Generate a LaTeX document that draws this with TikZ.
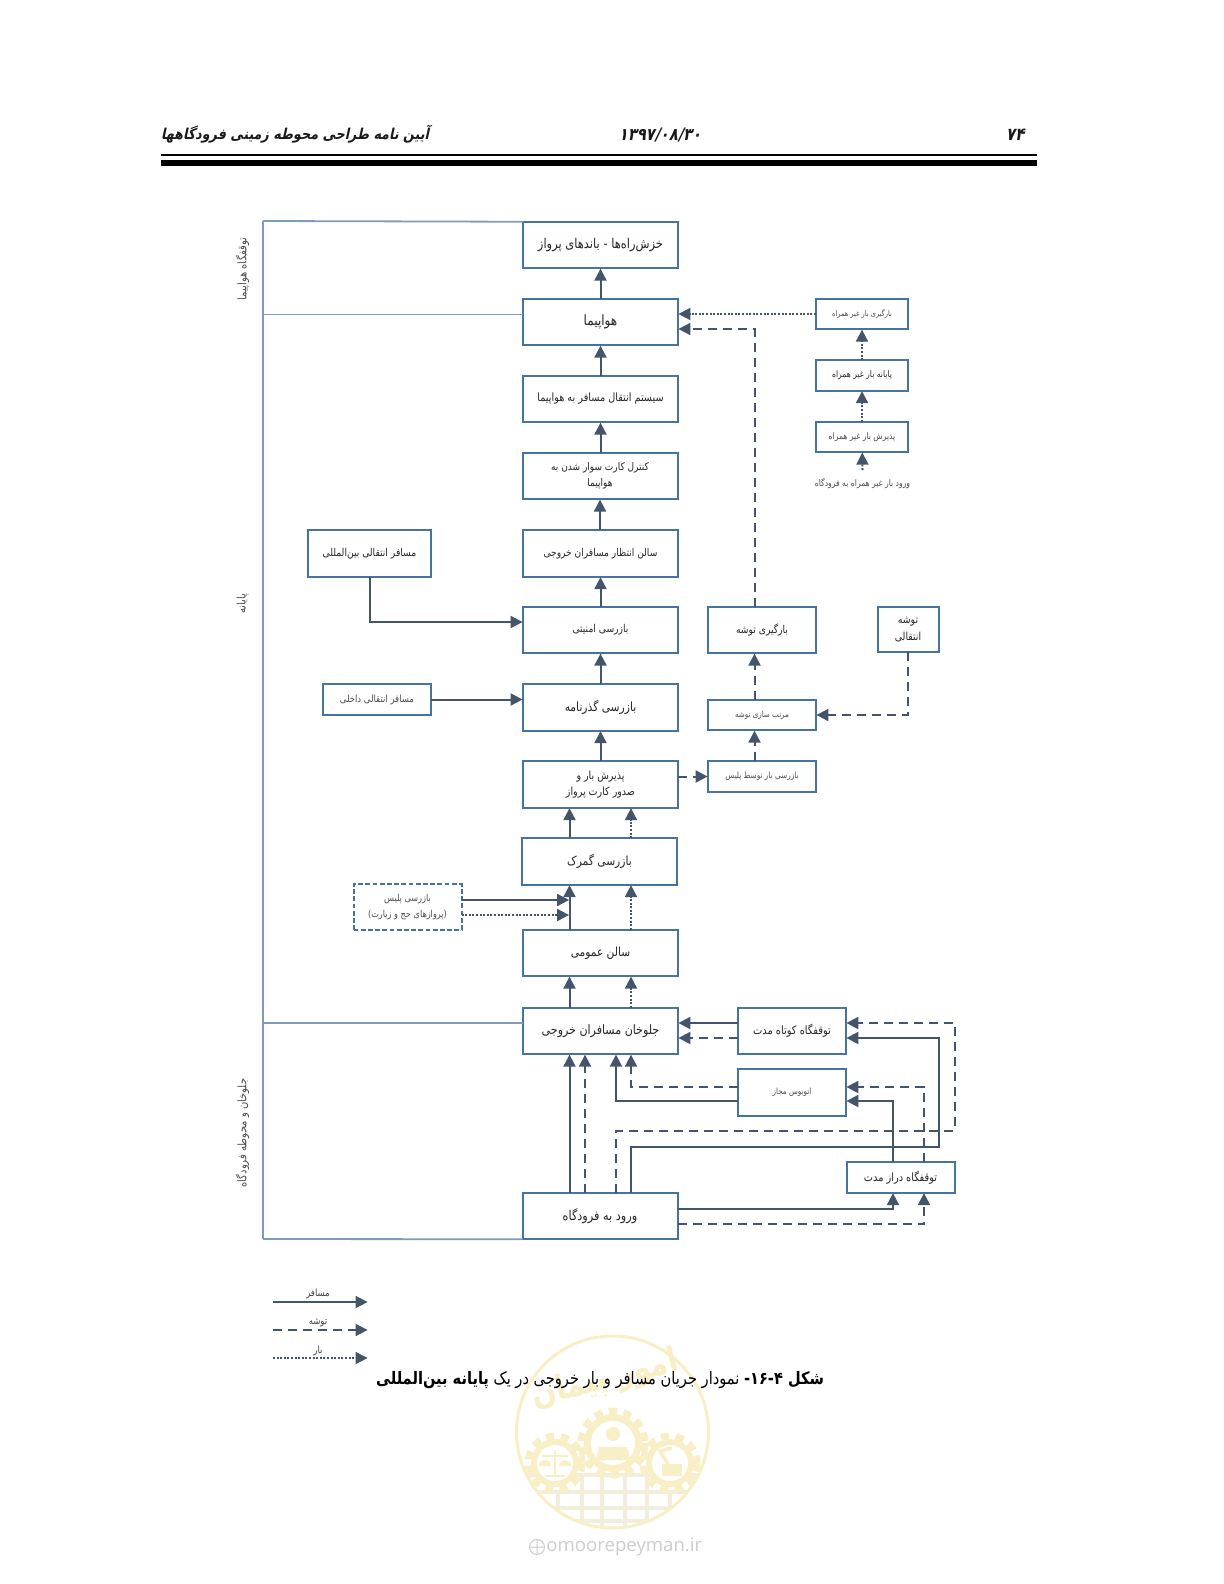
\documentclass[tikz,border=0pt]{standalone}
\usepackage{fontspec}
\usetikzlibrary{arrows.meta,calc}
\TeXXeTstate=1
\newfontfamily\farsi[Script=Arabic,FakeStretch=0.85]{DejaVu Sans}
\newfontfamily\farsib[Script=Arabic,FakeStretch=0.85]{DejaVu Sans Bold}
\newfontfamily\farsibs[Script=Arabic,FakeStretch=0.85,FakeSlant=0.22]{DejaVu Sans Bold}
\newfontfamily\latinw{Open Sans}
\definecolor{boxc}{HTML}{4673A0}
\definecolor{arrowc}{HTML}{44546A}
\definecolor{framec}{HTML}{7F9DB9}
\definecolor{wm}{HTML}{F9EFC6}
\definecolor{wmg}{HTML}{F3EEDC}
\newcommand{\fa}[1]{\raisebox{-1.4pt}{\beginR #1\endR}}
\newcommand{\fsz}[1]{\farsi\fontsize{#1}{8.1}\selectfont}
\tikzset{
  x=0.5pt,y=-0.5pt,
  basebox/.style={draw=boxc,line width=1pt,fill=white,inner sep=0pt,outer sep=0pt,align=center,text=black!85,font=\fsz{5.6}},
  bigbox/.style={basebox,minimum width=77.5pt,minimum height=23.25pt},
  midbox/.style={basebox,minimum width=54pt,minimum height=23.25pt},
  smallbox/.style={basebox,minimum width=54pt,minimum height=15.25pt,text=black!70,font=\fsz{4.3}},
  barbox/.style={smallbox,minimum width=46pt},
  pflow/.style={-{Triangle[length=6pt,width=6pt]},line width=1pt,color=arrowc,shorten >=0.2pt},
  bflow/.style={pflow,dash pattern=on 4.5pt off 3pt},
  cflow/.style={pflow,dash pattern=on 1pt off 0.8pt},
  framel/.style={draw=framec,line width=0.9pt},
  sidelab/.style={font=\fsz{5.9},text=black!70,rotate=90,inner sep=0pt},
  leglab/.style={font=\fsz{5},text=black!75,inner sep=0pt},
  wmline/.style={draw=wmg,line width=1.6pt},
}
\newcommand{\wmgear}[4]{% x y r(outer) inner
  \draw[wm,line width=4.5pt,dash pattern=on 4pt off 3.1pt] (#1,#2) circle[radius=#3];
  \fill[wm] (#1,#2) circle[radius=#3-2];
  \fill[white] (#1,#2) circle[radius=#4];
}
\begin{document}
\begin{tikzpicture}
\useasboundingbox (0,0) rectangle (1224,1584);
% watermark
\begin{scope}
  \clip (612.5,1432) circle[radius=95];
  \foreach \yy in {1475,1492,1508,1521} \draw[wmline] (515,\yy) -- (710,\yy);
  \foreach \xx in {582,602,625,647} \draw[wmline] (\xx,1475) -- (\xx,1530);
  \foreach \xx in {558,670} \draw[wmline] (\xx,1492) -- (\xx,1530);
\end{scope}
\draw[wm,line width=1.5pt] (612.5,1432) circle[radius=96];
\wmgear{555}{1463}{26}{18}
\wmgear{670}{1463}{26}{18}
\wmgear{613}{1443}{31}{22}
\fill[wm] (613,1434) circle[radius=7];
\fill[wm] (596,1460) -- (599,1447) -- (627,1447) -- (630,1460) -- cycle;
\draw[wm,line width=1.2pt] (555,1450) -- (555,1476) (545,1476) -- (565,1476) (542,1456) -- (568,1456);
\fill[wm] (539,1466) arc[start angle=180,end angle=360,radius=6] -- cycle;
\fill[wm] (559,1466) arc[start angle=180,end angle=360,radius=6] -- cycle;
\fill[wm] (662,1464) rectangle (682,1476);
\draw[wm,line width=1.8pt] (668,1464) -- (660,1451) -- (672,1448);
\node[inner sep=0pt,rotate=14,text=wm,font=\farsib\fontsize{17}{17}\selectfont] (wmtitle) at (605,1380) {\fa{امور پیمان}};
\node[inner sep=0pt,text=black!20,font=\latinw\fontsize{9.3}{12}\selectfont,anchor=west] (wmurl) at (546,1547) {omoorepeyman.ir};
\draw[black!20,line width=0.5pt] (537,1547) circle[radius=7.5] (529.5,1547) -- (544.5,1547) (537,1539.5) -- (537,1554.5);
% header
\node[inner sep=0pt,font=\farsibs\fontsize{7.5}{9}\selectfont,text=black!90] (htitle) at (295,134) {\fa{آیین نامه طراحی محوطه زمینی فرودگاهها}};
\node[inner sep=0pt,font=\farsibs\fontsize{8.6}{9}\selectfont,text=black!90] (hdate) at (660,135) {\beginL ۱۳۹۷/۰۸/۳۰\endL};
\node[inner sep=0pt,font=\farsibs\fontsize{8.8}{9}\selectfont,text=black!90] (hpage) at (1015,135) {\beginL ۷۴\endL};
\fill[black] (160.5,154) rectangle (1037,156);
\fill[black] (160.5,160) rectangle (1037,166);
% frame coordinates
\coordinate (fT) at (263,221);
\coordinate (fA) at (263,314.5);
\coordinate (fJ) at (263,1023);
\coordinate (fB) at (263,1239);
% nodes
\node[bigbox,font=\fsz{6.75}] (taxi) at (600.5,245) {\fa{خزش‌راه‌ها - باندهای پرواز}};
\node[bigbox,font=\fsz{7.1}] (plane) at (600.5,322) {\fa{هواپیما}};
\node[bigbox,font=\fsz{5.7}] (system) at (600.5,399) {\fa{سیستم انتقال مسافر به هواپیما}};
\node[bigbox,font=\fsz{5.3}] (control) at (600,476) {\fa{کنترل کارت سوار شدن به}\\\fa{هواپیما}};
\node[bigbox,font=\fsz{5.35}] (waiting) at (600.5,553.5) {\fa{سالن انتظار مسافران خروجی}};
\node[bigbox,font=\fsz{5.4}] (security) at (600.5,630) {\fa{بازرسی امنیتی}};
\node[bigbox,font=\fsz{6.3}] (passport) at (600.5,707.5) {\fa{بازرسی گذرنامه}};
\node[bigbox,font=\fsz{5.6}] (checkin) at (600.5,784.5) {\fa{پذیرش بار و}\\\fa{صدور کارت پرواز}};
\node[bigbox,font=\fsz{6.3}] (customs) at (599.5,861.5) {\fa{بازرسی گمرک}};
\node[bigbox,font=\fsz{6.25}] (hall) at (600.5,953) {\fa{سالن عمومی}};
\node[bigbox,font=\fsz{6.5}] (front) at (600.5,1031) {\fa{جلوخان مسافران خروجی}};
\node[bigbox,font=\fsz{6.65}] (entry) at (600,1216) {\fa{ورود به فرودگاه}};
\node[midbox,font=\fsz{5.4}] (loading) at (762,630) {\fa{بارگیری توشه}};
\node[basebox,minimum width=30.5pt,minimum height=22.5pt,font=\fsz{5.5}] (transfer) at (908,629.5) {\fa{توشه}\\\fa{انتقالی}};
\node[smallbox,font=\fsz{4.2}] (sorting) at (762,715) {\fa{مرتب سازی توشه}};
\node[smallbox,font=\fsz{4.3}] (policebag) at (762,776.5) {\fa{بازرسی بار توسط پلیس}};
\node[midbox,font=\fsz{5.8}] (short) at (792,1031) {\fa{توقفگاه کوتاه مدت}};
\node[midbox,text=black!70,font=\fsz{4.25}] (bus) at (792,1092.5) {\fa{اتوبوس مجاز}};
\node[smallbox,text=black!85,font=\fsz{5.75}] (long) at (900.5,1177.5) {\fa{توقفگاه دراز مدت}};
\node[barbox,font=\fsz{3.9}] (barload) at (862,314) {\fa{بارگیری بار غیر همراه}};
\node[barbox,font=\fsz{4.5},text=black!85] (barterm) at (862,375.5) {\fa{پایانه بار غیر همراه}};
\node[barbox,font=\fsz{4.5}] (barrec) at (862,437) {\fa{پذیرش بار غیر همراه}};
\node[inner sep=0pt,text=black!70,font=\fsz{4.5}] (barin) at (862.5,484) {\fa{ورود بار غیر همراه به فرودگاه}};
\coordinate (barinTop) at (862.5,470);
\node[basebox,minimum width=61.5pt,minimum height=23.25pt,font=\fsz{5.4}] (intl) at (369.5,553.5) {\fa{مسافر انتقالی بین‌المللی}};
\node[smallbox,font=\fsz{5}] (domestic) at (377,699.5) {\fa{مسافر انتقالی داخلی}};
\node[basebox,dash pattern=on 2.4pt off 1.2pt,minimum width=54pt,minimum height=22.75pt,text=black!70,font=\fsz{4.8}] (police) at (407.5,907) {\fa{بازرسی پلیس}\\\fa{(پروازهای حج و زیارت)}};
% frame
\draw[framel] (fT) -- (fB);
\draw[framel] (fT) -- (taxi.north west);
\draw[framel] (fA) -- (plane.west |- fA);
\draw[framel] (fJ) -- (front.west |- fJ);
\draw[framel] (fB) -- (entry.south west);
\node[sidelab] (lab1) at (242.5,269) {\fa{توقفگاه هواپیما}};
\node[sidelab] (lab2) at (242.5,604) {\fa{پایانه}};
\node[sidelab] (lab3) at (242.5,1133) {\fa{جلوخان و محوطه فرودگاه}};
% channels
\coordinate (xP) at (569.5,0);
\coordinate (xC) at (631,0);
\coordinate (xP2) at (585,0);
\coordinate (xB2) at (616,0);
\coordinate (xL) at (754.5,0);
\coordinate (xLS) at (893,0);
\coordinate (xLB) at (924,0);
\coordinate (xSS) at (939,0);
\coordinate (xSB) at (954.5,0);
\coordinate (yPlB) at (0,329);
\coordinate (yIn) at (0,622);
\coordinate (yChk) at (0,776.5);
\coordinate (yPolS) at (0,900);
\coordinate (yPolC) at (0,915);
\coordinate (yShS) at (0,1023);
\coordinate (yShB) at (0,1038);
\coordinate (yBuB) at (0,1087);
\coordinate (yBuS) at (0,1101);
\coordinate (yLoopB) at (0,1131);
\coordinate (yLoopS) at (0,1147);
\coordinate (yEnS) at (0,1209);
\coordinate (yEnB) at (0,1224);
% main column
\draw[pflow] (plane) -- (taxi);
\draw[pflow] (system) -- (plane);
\draw[pflow] (control.north -| system) -- (system);
\draw[pflow] (waiting.north -| control) -- (control);
\draw[pflow] (security) -- (waiting);
\draw[pflow] (passport) -- (security);
\draw[pflow] (checkin) -- (passport);
\draw[pflow] (customs.north -| xP) -- (checkin.south -| xP);
\draw[cflow] (customs.north -| xC) -- (checkin.south -| xC);
\draw[pflow] (hall.north -| xP) -- (customs.south -| xP);
\draw[cflow] (hall.north -| xC) -- (customs.south -| xC);
\draw[pflow] (front.north -| xP) -- (hall.south -| xP);
\draw[cflow] (front.north -| xC) -- (hall.south -| xC);
% side inputs
\draw[pflow] (intl.south) |- (security.west |- yIn);
\draw[pflow] (domestic.east) -- (passport.west |- domestic.east);
\draw[pflow] (police.east |- yPolS) -- (xP |- yPolS);
\draw[cflow] (police.east |- yPolC) -- (xP |- yPolC);
% baggage
\draw[bflow] (checkin.east |- yChk) -- (policebag.west);
\draw[bflow] (policebag.north -| xL) -- (sorting.south -| xL);
\draw[bflow] (sorting.north -| xL) -- (loading.south -| xL);
\draw[bflow] (loading.north -| xL) |- (plane.east |- yPlB);
\draw[bflow] (transfer.south) |- (sorting.east);
% unaccompanied
\draw[cflow] (barload.west) -- (plane.east |- barload.west);
\draw[cflow] (barterm) -- (barload);
\draw[cflow] (barrec) -- (barterm);
\draw[cflow] (barinTop) -- (barrec);
% forecourt
\draw[pflow] (short.west |- yShS) -- (front.east |- yShS);
\draw[bflow] (short.west |- yShB) -- (front.east |- yShB);
\draw[bflow] (bus.west |- yBuB) -| (front.south -| xC);
\draw[pflow] (bus.west |- yBuS) -| (front.south -| xB2);
\draw[pflow] (entry.north -| xP) -- (front.south -| xP);
\draw[bflow] (entry.north -| xP2) -- (front.south -| xP2);
\draw[bflow] (entry.north -| xB2) |- (xSB |- yLoopB) |- (short.east |- yShS);
\draw[pflow] (entry.north -| xC) |- (xSS |- yLoopS) |- (short.east |- yShB);
\draw[pflow] (long.north -| xLS) |- (bus.east |- yBuS);
\draw[bflow] (long.north -| xLB) |- (bus.east |- yBuB);
\draw[pflow] (entry.east |- yEnS) -| (long.south -| xLS);
\draw[bflow] (entry.east |- yEnB) -| (long.south -| xLB);
% legend
\coordinate (legSa) at (273,1302);
\coordinate (legSb) at (368,1302);
\coordinate (legBa) at (273,1330);
\coordinate (legBb) at (368,1330);
\coordinate (legCa) at (273,1358);
\coordinate (legCb) at (368,1358);
\draw[pflow,line width=0.8pt] (legSa) -- (legSb);
\draw[bflow,line width=0.8pt] (legBa) -- (legBb);
\draw[cflow,line width=0.6pt] (legCa) -- (legCb);
\node[leglab] (legS) at (318,1294) {\fa{مسافر}};
\node[leglab] (legB) at (318,1323) {\fa{توشه}};
\node[leglab] (legC) at (318,1351) {\fa{بار}};
% caption
\node[inner sep=0pt,text=black,font=\farsi\fontsize{8.6}{9}\selectfont] (caption) at (600,1380) {\beginR{\farsib شکل ۴-\beginL ۱۶\endL-} نمودار جریان مسافر و بار خروجی در یک {\farsib پایانه بین‌المللی}\endR};
\end{tikzpicture}
\end{document}
